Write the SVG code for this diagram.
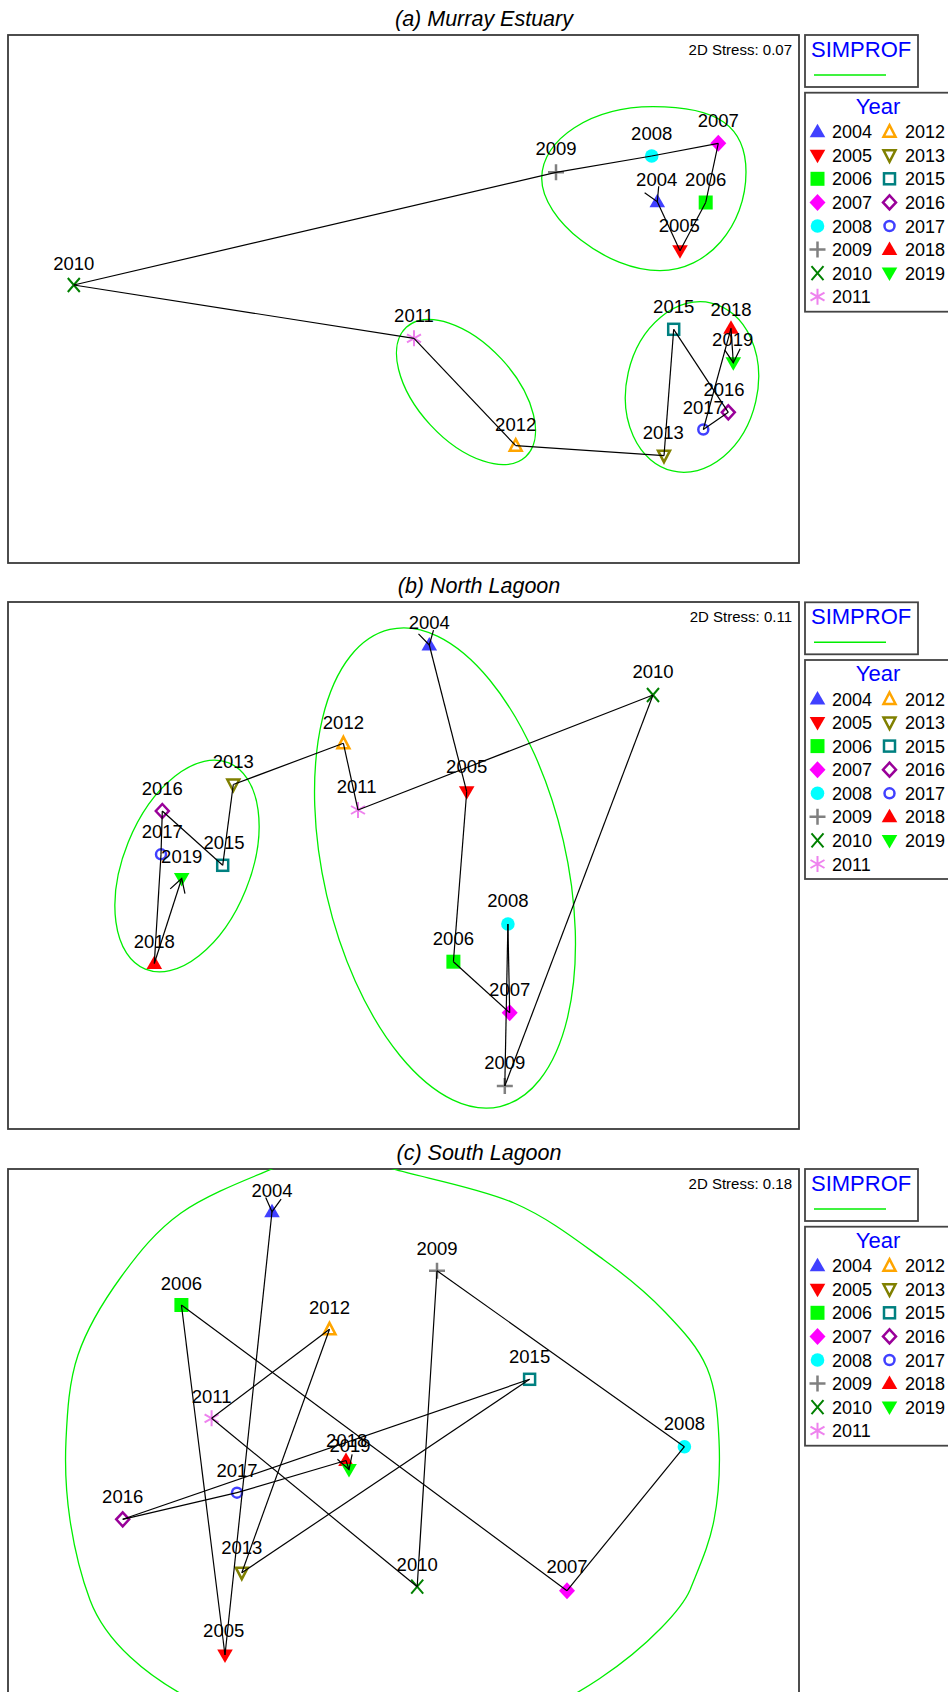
<svg xmlns="http://www.w3.org/2000/svg" xmlns:xlink="http://www.w3.org/1999/xlink" width="948" height="1692" viewBox="0 0 948 1692">
<style>
text{font-family:"Liberation Sans",Arial,sans-serif;fill:#000}
.title{font-size:21.5px;font-style:italic;text-anchor:middle}
.stress{font-size:15px;text-anchor:end}
.lbl{font-size:18.5px;text-anchor:middle}
.leg{font-size:18px}
.blue{fill:#0000ff;font-size:22px}
.frame{fill:#fff;stroke:#3a3a3a;stroke-width:1.8}
.lbox{fill:#fff;stroke:#444;stroke-width:1.8}
.grp{fill:none;stroke:#00ee00;stroke-width:1.3}
.con{stroke:#000;stroke-width:1.2;fill:none}
.first{marker-start:url(#arr)}
.last{marker-end:url(#arr)}
</style>
<defs>
<marker id="arr" markerUnits="userSpaceOnUse" viewBox="-15 -9 17 18" refX="0" refY="0" markerWidth="17" markerHeight="18" orient="auto" overflow="visible">
<path d="M-13.4,-7.75L0,0L-13.4,7.75" fill="none" stroke="#000" stroke-width="1.2"/>
</marker>
<clipPath id="clipA"><rect x="8" y="35" width="791" height="528"/></clipPath>
<clipPath id="clipB"><rect x="8" y="602" width="791" height="527"/></clipPath>
<clipPath id="clipC"><rect x="8" y="1169" width="791" height="528"/></clipPath>
<g id="s2004"><polygon points="0,-8 7.8,5.5 -7.8,5.5" fill="#4040ff"/></g>
<g id="s2005"><polygon points="0,8 7.8,-5.5 -7.8,-5.5" fill="#ff0000"/></g>
<g id="s2006"><rect x="-7" y="-7" width="14" height="14" fill="#00ff00"/></g>
<g id="s2007"><polygon points="0,-8.5 8,0 0,8.5 -8,0" fill="#ff00ff"/></g>
<g id="s2008"><circle r="6.8" fill="#00ffff"/></g>
<g id="s2009"><path d="M-8,0H8M0,-8V8" stroke="#808080" stroke-width="2.5"/></g>
<g id="s2010"><path d="M-6,-7L6,7M6,-7L-6,7" stroke="#008000" stroke-width="2"/></g>
<g id="s2011"><path d="M0,-8V8M-7,-4L7,4M-7,4L7,-4" stroke="#ee82ee" stroke-width="2"/></g>
<g id="s2012"><polygon points="0,-6.5 6,5 -6,5" fill="none" stroke="#ffa500" stroke-width="2.5"/></g>
<g id="s2013"><polygon points="0,6.5 6,-5 -6,-5" fill="none" stroke="#808000" stroke-width="2.5"/></g>
<g id="s2015"><rect x="-5.5" y="-5.5" width="11" height="11" fill="none" stroke="#008080" stroke-width="2.5"/></g>
<g id="s2016"><polygon points="0,-7 6.5,0 0,7 -6.5,0" fill="none" stroke="#990099" stroke-width="2.5"/></g>
<g id="s2017"><circle r="5" fill="none" stroke="#4040ff" stroke-width="2.5"/></g>
<g id="s2018"><polygon points="0,-8 7.8,5.5 -7.8,5.5" fill="#ff0000"/></g>
<g id="s2019"><polygon points="0,8 7.8,-5.5 -7.8,-5.5" fill="#00ff00"/></g>
</defs>

<!-- ================= PANEL A ================= -->
<g id="panel-a">
<text class="title" x="484" y="26">(a) Murray Estuary</text>
<rect class="frame" x="8" y="35" width="791" height="528"/>
<text class="stress" x="792" y="54.5">2D Stress: 0.07</text>
<g id="a-groups" clip-path="url(#clipA)">
<path class="grp" d="M653,106.7C718,106.7 746,126.5 746,172C746,226.3 707.3,270.7 660,270.7C606.8,270.7 541.7,219.9 541.7,178.3C541.7,138.9 591.8,106.7 653,106.7Z"/>
<ellipse class="grp" cx="466" cy="392" rx="88" ry="48.5" transform="rotate(47.3 466 392)"/>
<ellipse class="grp" cx="692" cy="387" rx="65.4" ry="86.2" transform="rotate(13 692 387)"/>
</g>
<g id="a-2004"><use href="#s2004" x="657.3" y="201.7"/><text class="lbl" x="656.7" y="185.5">2004</text></g>
<g id="a-2005"><use href="#s2005" x="680" y="250.7"/><text class="lbl" x="679.3" y="232.2">2005</text></g>
<g id="a-2006"><use href="#s2006" x="705.7" y="202.5"/><text class="lbl" x="705.7" y="185.5">2006</text></g>
<g id="a-2007"><use href="#s2007" x="718.3" y="143.3"/><text class="lbl" x="718.3" y="126.5">2007</text></g>
<g id="a-2008"><use href="#s2008" x="651.7" y="156"/><text class="lbl" x="651.7" y="139.8">2008</text></g>
<g id="a-2009"><use href="#s2009" x="556" y="172.3"/><text class="lbl" x="556" y="154.8">2009</text></g>
<g id="a-2010"><use href="#s2010" x="73.8" y="285"/><text class="lbl" x="73.8" y="269.5">2010</text></g>
<g id="a-2011"><use href="#s2011" x="414" y="338.3"/><text class="lbl" x="414" y="322.2">2011</text></g>
<g id="a-2012"><use href="#s2012" x="515.7" y="445.7"/><text class="lbl" x="515.7" y="430.5">2012</text></g>
<g id="a-2013"><use href="#s2013" x="664" y="455.7"/><text class="lbl" x="663.3" y="438.8">2013</text></g>
<g id="a-2015"><use href="#s2015" x="673.7" y="329.3"/><text class="lbl" x="673.7" y="313.2">2015</text></g>
<g id="a-2016"><use href="#s2016" x="728.3" y="412.3"/><text class="lbl" x="724" y="395.5">2016</text></g>
<g id="a-2017"><use href="#s2017" x="703.3" y="429.5"/><text class="lbl" x="703.3" y="413.8">2017</text></g>
<g id="a-2018"><use href="#s2018" x="731" y="328.3"/><text class="lbl" x="731" y="315.8">2018</text></g>
<g id="a-2019"><use href="#s2019" x="733.3" y="362.7"/><text class="lbl" x="732.7" y="345.8">2019</text></g>
<g id="a-connectors">
<line class="con first" x1="657.3" y1="201.7" x2="680" y2="250.7"/>
<line class="con" x1="680" y1="250.7" x2="705.7" y2="202.5"/>
<line class="con" x1="705.7" y1="202.5" x2="718.3" y2="143.3"/>
<line class="con" x1="718.3" y1="143.3" x2="651.7" y2="156"/>
<line class="con" x1="651.7" y1="156" x2="556" y2="172.3"/>
<line class="con" x1="556" y1="172.3" x2="73.8" y2="285"/>
<line class="con" x1="73.8" y1="285" x2="414" y2="338.3"/>
<line class="con" x1="414" y1="338.3" x2="515.7" y2="445.7"/>
<line class="con" x1="515.7" y1="445.7" x2="664" y2="455.7"/>
<line class="con" x1="664" y1="455.7" x2="673.7" y2="329.3"/>
<line class="con" x1="673.7" y1="329.3" x2="728.3" y2="412.3"/>
<line class="con" x1="728.3" y1="412.3" x2="703.3" y2="429.5"/>
<line class="con" x1="703.3" y1="429.5" x2="731" y2="328.3"/>
<line class="con last" x1="731" y1="328.3" x2="733.3" y2="362.7"/>
</g>
<g id="a-legend-simprof">
<rect class="lbox" x="805" y="35" width="113" height="52"/>
<text class="blue" x="811" y="56.5">SIMPROF</text>
<line x1="814" y1="75" x2="886" y2="75" stroke="#00ee00" stroke-width="1.5"/>
</g>
<g id="a-legend-year">
<rect class="lbox" x="805" y="92.7" width="150" height="219"/>
<text class="blue" x="878" y="113.5" text-anchor="middle">Year</text>
<use href="#s2004" x="817.5" y="131.7"/><text class="leg" x="832" y="138.2">2004</text>
<use href="#s2005" x="817.5" y="155.3"/><text class="leg" x="832" y="161.8">2005</text>
<use href="#s2006" x="817.5" y="178.8"/><text class="leg" x="832" y="185.3">2006</text>
<use href="#s2007" x="817.5" y="202.4"/><text class="leg" x="832" y="208.9">2007</text>
<use href="#s2008" x="817.5" y="226"/><text class="leg" x="832" y="232.5">2008</text>
<use href="#s2009" x="817.5" y="249.5"/><text class="leg" x="832" y="256">2009</text>
<use href="#s2010" x="817.5" y="273.1"/><text class="leg" x="832" y="279.6">2010</text>
<use href="#s2011" x="817.5" y="296.7"/><text class="leg" x="832" y="303.2">2011</text>
<use href="#s2012" x="889.5" y="131.7"/><text class="leg" x="905" y="138.2">2012</text>
<use href="#s2013" x="889.5" y="155.3"/><text class="leg" x="905" y="161.8">2013</text>
<use href="#s2015" x="889.5" y="178.8"/><text class="leg" x="905" y="185.3">2015</text>
<use href="#s2016" x="889.5" y="202.4"/><text class="leg" x="905" y="208.9">2016</text>
<use href="#s2017" x="889.5" y="226"/><text class="leg" x="905" y="232.5">2017</text>
<use href="#s2018" x="889.5" y="249.5"/><text class="leg" x="905" y="256">2018</text>
<use href="#s2019" x="889.5" y="273.1"/><text class="leg" x="905" y="279.6">2019</text>
</g>
</g>

<!-- ================= PANEL B ================= -->
<g id="panel-b">
<text class="title" x="479" y="593">(b) North Lagoon</text>
<rect class="frame" x="8" y="602" width="791" height="527"/>
<text class="stress" x="792" y="621.5">2D Stress: 0.11</text>
<g id="b-groups" clip-path="url(#clipB)">
<ellipse class="grp" cx="445" cy="868" rx="121.4" ry="244.8" transform="rotate(-13 445 868)"/>
<ellipse class="grp" cx="187" cy="866" rx="63.4" ry="111.3" transform="rotate(22 187 866)"/>
</g>
<g id="b-2004"><use href="#s2004" x="429.3" y="645"/><text class="lbl" x="429.3" y="629.2">2004</text></g>
<g id="b-2005"><use href="#s2005" x="466.7" y="791.7"/><text class="lbl" x="466.7" y="773.2">2005</text></g>
<g id="b-2006"><use href="#s2006" x="453.4" y="961.7"/><text class="lbl" x="453.4" y="944.8">2006</text></g>
<g id="b-2007"><use href="#s2007" x="509.7" y="1012.7"/><text class="lbl" x="509.7" y="995.8">2007</text></g>
<g id="b-2008"><use href="#s2008" x="507.9" y="924"/><text class="lbl" x="507.9" y="907.2">2008</text></g>
<g id="b-2009"><use href="#s2009" x="504.8" y="1086"/><text class="lbl" x="504.8" y="1069.2">2009</text></g>
<g id="b-2010"><use href="#s2010" x="653" y="695"/><text class="lbl" x="653" y="678.2">2010</text></g>
<g id="b-2011"><use href="#s2011" x="358" y="810"/><text class="lbl" x="356.7" y="792.5">2011</text></g>
<g id="b-2012"><use href="#s2012" x="343.4" y="743.3"/><text class="lbl" x="343.4" y="728.8">2012</text></g>
<g id="b-2013"><use href="#s2013" x="233.3" y="784.5"/><text class="lbl" x="233.3" y="768.2">2013</text></g>
<g id="b-2015"><use href="#s2015" x="222.7" y="865.3"/><text class="lbl" x="224" y="849.2">2015</text></g>
<g id="b-2016"><use href="#s2016" x="162.3" y="811"/><text class="lbl" x="162.3" y="794.8">2016</text></g>
<g id="b-2017"><use href="#s2017" x="161" y="854.3"/><text class="lbl" x="162.3" y="838.2">2017</text></g>
<g id="b-2018"><use href="#s2018" x="154.3" y="963.5"/><text class="lbl" x="154.3" y="948.2">2018</text></g>
<g id="b-2019"><use href="#s2019" x="181.7" y="878.5"/><text class="lbl" x="181.7" y="862.5">2019</text></g>
<g id="b-connectors">
<line class="con first" x1="429.3" y1="645" x2="466.7" y2="791.7"/>
<line class="con" x1="466.7" y1="791.7" x2="453.4" y2="961.7"/>
<line class="con" x1="453.4" y1="961.7" x2="509.7" y2="1012.7"/>
<line class="con" x1="509.7" y1="1012.7" x2="507.9" y2="924"/>
<line class="con" x1="507.9" y1="924" x2="504.8" y2="1086"/>
<line class="con" x1="504.8" y1="1086" x2="653" y2="695"/>
<line class="con" x1="653" y1="695" x2="358" y2="810"/>
<line class="con" x1="358" y1="810" x2="343.4" y2="743.3"/>
<line class="con" x1="343.4" y1="743.3" x2="233.3" y2="784.5"/>
<line class="con" x1="233.3" y1="784.5" x2="222.7" y2="865.3"/>
<line class="con" x1="222.7" y1="865.3" x2="162.3" y2="811"/>
<line class="con" x1="162.3" y1="811" x2="161" y2="854.3"/>
<line class="con" x1="161" y1="854.3" x2="154.3" y2="963.5"/>
<line class="con last" x1="154.3" y1="963.5" x2="181.7" y2="878.5"/>
</g>
<g id="b-legend-simprof">
<rect class="lbox" x="805" y="602.3" width="113" height="52"/>
<text class="blue" x="811" y="623.8">SIMPROF</text>
<line x1="814" y1="642.3" x2="886" y2="642.3" stroke="#00ee00" stroke-width="1.5"/>
</g>
<g id="b-legend-year">
<rect class="lbox" x="805" y="660" width="150" height="219"/>
<text class="blue" x="878" y="680.8" text-anchor="middle">Year</text>
<use href="#s2004" x="817.5" y="699"/><text class="leg" x="832" y="705.5">2004</text>
<use href="#s2005" x="817.5" y="722.6"/><text class="leg" x="832" y="729.1">2005</text>
<use href="#s2006" x="817.5" y="746.1"/><text class="leg" x="832" y="752.6">2006</text>
<use href="#s2007" x="817.5" y="769.7"/><text class="leg" x="832" y="776.2">2007</text>
<use href="#s2008" x="817.5" y="793.3"/><text class="leg" x="832" y="799.8">2008</text>
<use href="#s2009" x="817.5" y="816.8"/><text class="leg" x="832" y="823.3">2009</text>
<use href="#s2010" x="817.5" y="840.4"/><text class="leg" x="832" y="846.9">2010</text>
<use href="#s2011" x="817.5" y="864"/><text class="leg" x="832" y="870.5">2011</text>
<use href="#s2012" x="889.5" y="699"/><text class="leg" x="905" y="705.5">2012</text>
<use href="#s2013" x="889.5" y="722.6"/><text class="leg" x="905" y="729.1">2013</text>
<use href="#s2015" x="889.5" y="746.1"/><text class="leg" x="905" y="752.6">2015</text>
<use href="#s2016" x="889.5" y="769.7"/><text class="leg" x="905" y="776.2">2016</text>
<use href="#s2017" x="889.5" y="793.3"/><text class="leg" x="905" y="799.8">2017</text>
<use href="#s2018" x="889.5" y="816.8"/><text class="leg" x="905" y="823.3">2018</text>
<use href="#s2019" x="889.5" y="840.4"/><text class="leg" x="905" y="846.9">2019</text>
</g>
</g>

<!-- ================= PANEL C ================= -->
<g id="panel-c">
<text class="title" x="479" y="1160">(c) South Lagoon</text>
<rect class="frame" x="8" y="1169" width="791" height="540"/>
<text class="stress" x="792" y="1188.5">2D Stress: 0.18</text>
<g id="c-groups" clip-path="url(#clipC)">
<path class="grp" d="M90,1600C80,1573.3 74,1546.7 70,1520C66,1493.3 64.7,1467.5 66,1440C67.3,1412.5 68.8,1382.2 78,1355C87.2,1327.8 103.8,1300.7 121,1277C138.2,1253.3 155.8,1231 181,1213C206.2,1195 246.8,1179.5 272,1169C297.2,1158.5 311.8,1150 332,1150C352.2,1150 362.7,1160.2 393,1169C423.3,1177.8 478.8,1187.8 514,1203C549.2,1218.2 578.8,1241.8 604,1260C629.2,1278.2 647.8,1294 665,1312C682.2,1330 698,1346.7 707,1368C716,1389.3 717.8,1414.7 719,1440C720.2,1465.3 718.8,1495 714,1520C709.2,1545 700.7,1563.3 690,1590C675,1625 560,1740 400,1745C250,1748 120,1680 90,1600Z"/>
</g>
<g id="c-2004"><use href="#s2004" x="272" y="1211.7"/><text class="lbl" x="272" y="1196.5">2004</text></g>
<g id="c-2005"><use href="#s2005" x="225" y="1655"/><text class="lbl" x="223.7" y="1636.5">2005</text></g>
<g id="c-2006"><use href="#s2006" x="181.4" y="1305"/><text class="lbl" x="181.4" y="1289.8">2006</text></g>
<g id="c-2007"><use href="#s2007" x="567" y="1590.7"/><text class="lbl" x="567" y="1573.2">2007</text></g>
<g id="c-2008"><use href="#s2008" x="684.4" y="1446.7"/><text class="lbl" x="684.4" y="1429.8">2008</text></g>
<g id="c-2009"><use href="#s2009" x="437" y="1270.7"/><text class="lbl" x="437" y="1254.8">2009</text></g>
<g id="c-2010"><use href="#s2010" x="417.2" y="1586.7"/><text class="lbl" x="417.2" y="1570.5">2010</text></g>
<g id="c-2011"><use href="#s2011" x="211.6" y="1418.3"/><text class="lbl" x="211.6" y="1402.5">2011</text></g>
<g id="c-2012"><use href="#s2012" x="329.5" y="1329.3"/><text class="lbl" x="329.5" y="1313.8">2012</text></g>
<g id="c-2013"><use href="#s2013" x="241.8" y="1572.7"/><text class="lbl" x="241.8" y="1554.2">2013</text></g>
<g id="c-2015"><use href="#s2015" x="529.6" y="1379.3"/><text class="lbl" x="529.6" y="1362.5">2015</text></g>
<g id="c-2016"><use href="#s2016" x="122.7" y="1519.3"/><text class="lbl" x="122.7" y="1503.2">2016</text></g>
<g id="c-2017"><use href="#s2017" x="237" y="1492.7"/><text class="lbl" x="237" y="1476.5">2017</text></g>
<g id="c-2018"><use href="#s2018" x="346" y="1460.5"/><text class="lbl" x="346.7" y="1446.5">2018</text></g>
<g id="c-2019"><use href="#s2019" x="349" y="1469.5"/><text class="lbl" x="350" y="1451.8">2019</text></g>
<g id="c-connectors">
<line class="con first" x1="272" y1="1211.7" x2="225" y2="1655"/>
<line class="con" x1="225" y1="1655" x2="181.4" y2="1305"/>
<line class="con" x1="181.4" y1="1305" x2="567" y2="1590.7"/>
<line class="con" x1="567" y1="1590.7" x2="684.4" y2="1446.7"/>
<line class="con" x1="684.4" y1="1446.7" x2="437" y2="1270.7"/>
<line class="con" x1="437" y1="1270.7" x2="417.2" y2="1586.7"/>
<line class="con" x1="417.2" y1="1586.7" x2="211.6" y2="1418.3"/>
<line class="con" x1="211.6" y1="1418.3" x2="329.5" y2="1329.3"/>
<line class="con" x1="329.5" y1="1329.3" x2="241.8" y2="1572.7"/>
<line class="con" x1="241.8" y1="1572.7" x2="529.6" y2="1379.3"/>
<line class="con" x1="529.6" y1="1379.3" x2="122.7" y2="1519.3"/>
<line class="con" x1="122.7" y1="1519.3" x2="237" y2="1492.7"/>
<line class="con" x1="237" y1="1492.7" x2="346" y2="1460.5"/>
<line class="con last" x1="346" y1="1460.5" x2="349" y2="1469.5"/>
</g>
<g id="c-legend-simprof">
<rect class="lbox" x="805" y="1169" width="113" height="52"/>
<text class="blue" x="811" y="1190.5">SIMPROF</text>
<line x1="814" y1="1209" x2="886" y2="1209" stroke="#00ee00" stroke-width="1.5"/>
</g>
<g id="c-legend-year">
<rect class="lbox" x="805" y="1226.7" width="150" height="219"/>
<text class="blue" x="878" y="1247.5" text-anchor="middle">Year</text>
<use href="#s2004" x="817.5" y="1265.7"/><text class="leg" x="832" y="1272.2">2004</text>
<use href="#s2005" x="817.5" y="1289.3"/><text class="leg" x="832" y="1295.8">2005</text>
<use href="#s2006" x="817.5" y="1312.8"/><text class="leg" x="832" y="1319.3">2006</text>
<use href="#s2007" x="817.5" y="1336.4"/><text class="leg" x="832" y="1342.9">2007</text>
<use href="#s2008" x="817.5" y="1360"/><text class="leg" x="832" y="1366.5">2008</text>
<use href="#s2009" x="817.5" y="1383.5"/><text class="leg" x="832" y="1390">2009</text>
<use href="#s2010" x="817.5" y="1407.1"/><text class="leg" x="832" y="1413.6">2010</text>
<use href="#s2011" x="817.5" y="1430.7"/><text class="leg" x="832" y="1437.2">2011</text>
<use href="#s2012" x="889.5" y="1265.7"/><text class="leg" x="905" y="1272.2">2012</text>
<use href="#s2013" x="889.5" y="1289.3"/><text class="leg" x="905" y="1295.8">2013</text>
<use href="#s2015" x="889.5" y="1312.8"/><text class="leg" x="905" y="1319.3">2015</text>
<use href="#s2016" x="889.5" y="1336.4"/><text class="leg" x="905" y="1342.9">2016</text>
<use href="#s2017" x="889.5" y="1360"/><text class="leg" x="905" y="1366.5">2017</text>
<use href="#s2018" x="889.5" y="1383.5"/><text class="leg" x="905" y="1390">2018</text>
<use href="#s2019" x="889.5" y="1407.1"/><text class="leg" x="905" y="1413.6">2019</text>
</g>
</g>
</svg>
